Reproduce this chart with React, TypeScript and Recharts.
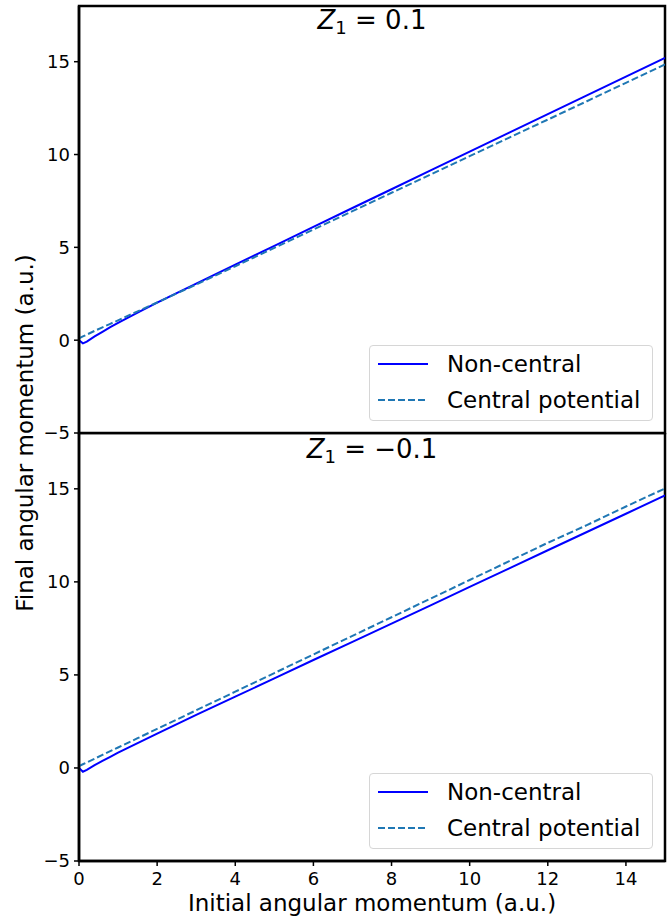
import React from 'react';
import { LineChart, Line, XAxis, YAxis, ReferenceArea, Legend } from 'recharts';

// initial angular momentum samples (a.u.)
const initialL = [0, 0.1, 0.2, 0.4, 0.6, 0.8, 1, 1.5, 2, 3, 4, 5, 6, 7, 8, 9, 10, 11, 12, 13, 14, 15];

// Z1 = 0.1
const nonCentralPos = [0, -0.17, -0.08, 0.2, 0.45, 0.7, 0.93, 1.48, 2.02, 3.05, 4.07, 5.08, 6.1, 7.12, 8.13, 9.15, 10.16, 11.17, 12.18, 13.19, 14.2, 15.2];
const centralPos = [0.1, 0.2, 0.3, 0.5, 0.69, 0.88, 1.07, 1.55, 2.03, 3.0, 3.98, 4.97, 5.96, 6.95, 7.94, 8.92, 9.91, 10.9, 11.88, 12.87, 13.86, 14.85];

// Z1 = -0.1
const nonCentralNeg = [0, -0.2, -0.1, 0.15, 0.38, 0.6, 0.82, 1.33, 1.85, 2.85, 3.83, 4.81, 5.8, 6.78, 7.76, 8.74, 9.73, 10.71, 11.7, 12.68, 13.66, 14.65];
const centralNeg = [0.1, 0.2, 0.3, 0.5, 0.7, 0.9, 1.1, 1.6, 2.1, 3.1, 4.1, 5.1, 6.1, 7.1, 8.1, 9.1, 10.1, 11.1, 12.1, 13.05, 14.05, 15.02];

const yTicks = [-5, 0, 5, 10, 15];
const xTicks = [0, 2, 4, 6, 8, 10, 12, 14];

const FONT = "'DejaVu Sans', sans-serif";
const W = 669;

type Row = { x: number; nc: number; cp: number };

const rows = (nc: number[], cp: number[]): Row[] =>
  initialL.map((x, i) => ({ x, nc: nc[i], cp: cp[i] }));

const series = [
  { key: 'nc', name: 'Non-central', color: '#0000ff', dash: undefined as string | undefined },
  { key: 'cp', name: 'Central potential', color: '#1f77b4', dash: '7 3' },
];

// matplotlib-style minus sign
const fmt = (v: number) => (v < 0 ? '\u2212' + Math.abs(v) : String(v));

function LegendBox() {
  return (
    <div
      style={{
        width: 282,
        height: 74,
        border: '1px solid #d6d6d6',
        borderRadius: 4,
        background: 'rgba(255,255,255,0.8)',
        position: 'relative',
        fontFamily: FONT,
        fontSize: 23,
        color: '#000',
      }}
    >
      {series.map((s, i) => (
        <div key={s.key} style={{ position: 'absolute', left: 8, top: 2 + i * 36, height: 32, display: 'flex', alignItems: 'center' }}>
          <svg width={50} height={4} style={{ marginRight: 19 }}>
            <line x1={0} y1={2} x2={50} y2={2} stroke={s.color} strokeWidth={2} strokeDasharray={s.dash} />
          </svg>
          <span style={{ lineHeight: 1 }}>{s.name}</span>
        </div>
      ))}
    </div>
  );
}

// top panel's svg runs 12px past its plot so the −5 label is not cut
function Panel({ data, height, showX }: { data: Row[]; height: number; showX: boolean }) {
  return (
    <LineChart
      width={W}
      height={height}
      data={data}
      margin={{ top: showX ? 0 : 6, right: 4, left: 0, bottom: showX ? 0 : 12 }}
    >
      <XAxis
        dataKey="x"
        type="number"
        domain={[0, 15]}
        ticks={xTicks}
        interval={0}
        allowDataOverflow
        hide={!showX}
        height={56}
        tickSize={5}
        tickMargin={6}
        tick={{ fill: '#000', fontSize: 18, fontFamily: FONT }}
        tickLine={{ stroke: '#000', strokeWidth: 1.5 }}
        axisLine={{ stroke: '#000', strokeWidth: 2.5 }}
      />
      <YAxis
        type="number"
        domain={[-5, 18]}
        ticks={yTicks}
        interval={0}
        tickFormatter={fmt}
        allowDataOverflow
        width={79}
        tickSize={5}
        tickMargin={4}
        tick={{ fill: '#000', fontSize: 18, fontFamily: FONT }}
        tickLine={{ stroke: '#000', strokeWidth: 1.5 }}
        axisLine={{ stroke: '#000', strokeWidth: 2.5 }}
      />
      <ReferenceArea x1={0} x2={15} y1={-5} y2={18} fill="none" stroke="#000" strokeWidth={2.5} />
      {series.map((s) => (
        <Line
          key={s.key}
          dataKey={s.key}
          name={s.name}
          type="linear"
          stroke={s.color}
          strokeWidth={2}
          strokeDasharray={s.dash}
          dot={false}
          activeDot={false}
          isAnimationActive={false}
        />
      ))}
      <Legend
        layout="horizontal"
        verticalAlign="middle"
        align="center"
        content={() => <LegendBox />}
        wrapperStyle={{ position: 'absolute', left: 369, top: showX ? 340 : 345, width: 284, height: 76 }}
      />
    </LineChart>
  );
}

function Title({ top, value }: { top: number; value: string }) {
  return (
    <div
      style={{
        position: 'absolute',
        left: 79,
        width: 586,
        top,
        textAlign: 'center',
        fontFamily: FONT,
        fontSize: 26,
        lineHeight: 1,
        color: '#000',
      }}
    >
      <i>Z</i>
      <sub style={{ fontSize: 18, verticalAlign: -5 }}>1</sub>
      <span> = {value}</span>
    </div>
  );
}

export default function App() {
  return (
    <div style={{ position: 'absolute', left: 0, top: 0, width: W, height: 917, background: '#fff' }}>
      <div style={{ position: 'absolute', left: 0, top: 0 }}>
        <Panel data={rows(nonCentralPos, centralPos)} height={445} showX={false} />
      </div>
      <div style={{ position: 'absolute', left: 0, top: 433 }}>
        <Panel data={rows(nonCentralNeg, centralNeg)} height={484} showX />
      </div>
      <Title top={7} value="0.1" />
      <Title top={436} value={'\u22120.1'} />
      <div
        style={{
          position: 'absolute',
          left: 372 - 200,
          width: 400,
          top: 892,
          textAlign: 'center',
          fontFamily: FONT,
          fontSize: 23,
          lineHeight: 1,
          color: '#000',
        }}
      >
        Initial angular momentum (a.u.)
      </div>
      <div
        style={{
          position: 'absolute',
          left: 25 - 200,
          top: 433 - 12,
          width: 400,
          height: 24,
          textAlign: 'center',
          fontFamily: FONT,
          fontSize: 23,
          lineHeight: '24px',
          color: '#000',
          transform: 'rotate(-90deg)',
        }}
      >
        Final angular momentum (a.u.)
      </div>
    </div>
  );
}
